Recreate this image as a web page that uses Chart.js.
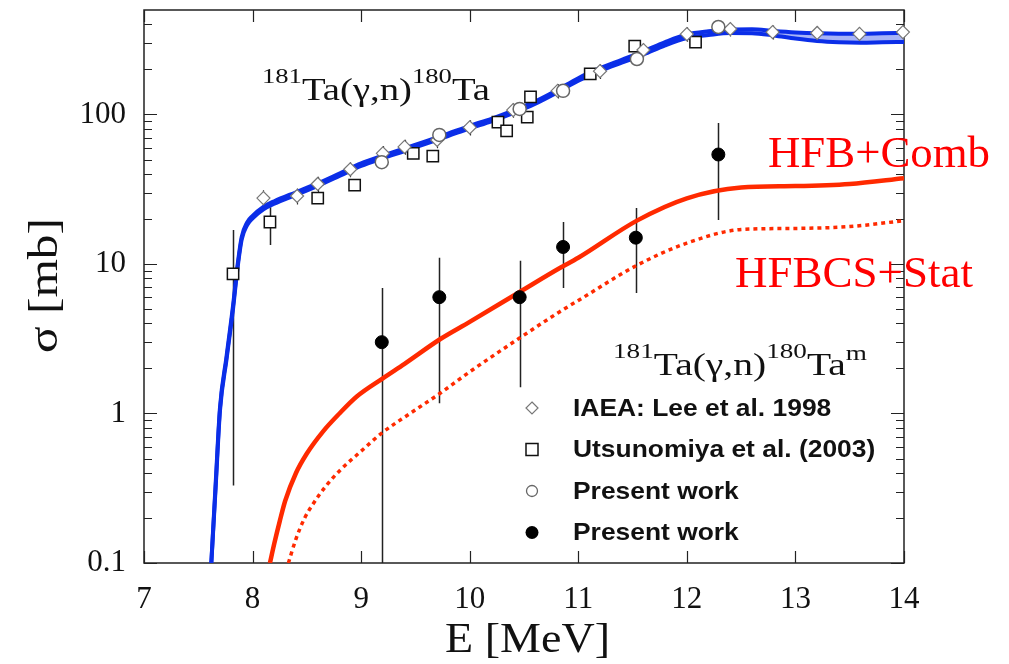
<!DOCTYPE html>
<html>
<head>
<meta charset="utf-8">
<script src="https://cdn.jsdelivr.net/npm/chart.js@4.4.1/dist/chart.umd.min.js"></script>
<style>
  html, body { margin: 0; padding: 0; background: #fff; }
  canvas { display: block; }
</style>
</head>
<body>
<canvas id="myChart" width="1009" height="664"></canvas>
<script>
// --- calculated cross sections (blue band = total, red = isomer) ---
var bandEnergy = [7.62, 7.66, 7.70, 7.76, 7.82, 7.86, 7.90, 7.95, 8.0, 8.1, 8.2, 8.4, 8.6, 8.8, 9.0, 9.2, 9.4, 9.6, 9.8, 10.0,
                  10.2, 10.4, 10.6, 10.8, 11.0, 11.2, 11.4, 11.6, 11.8, 12.0, 12.2, 12.4, 12.6, 12.8, 13.0, 13.2, 13.4, 13.6, 13.8, 14.0];
var bandLow  = [0.1, 0.32, 1.05, 2.3, 5.0, 9.2, 14.6, 18.2, 20.2, 23.2, 25.3, 29, 33.3, 38.8, 45.3, 51, 57, 63.8, 71.7, 80.8,
                90, 102, 117.5, 139.5, 168, 195, 222, 252, 290, 324, 340, 351, 350, 338, 322, 310, 304, 302, 304, 306];
var bandHigh = [0.1, 0.34, 1.1, 2.4, 5.25, 9.6, 15.2, 19, 21, 24.1, 26.3, 30.2, 34.6, 40.3, 47.1, 53, 59.3, 66.3, 74.5, 84,
                93.6, 106, 122, 145, 175, 204, 232, 264, 305, 343, 360, 370, 372, 362, 354, 349, 347, 347, 349, 351];

var combEnergy = [8.16, 8.20, 8.25, 8.30, 8.40, 8.50, 8.65, 8.80, 8.96, 9.2, 9.4, 9.73, 10.0, 10.46, 10.83, 11.0, 11.54, 12.0, 12.5, 13.0, 13.5, 14.0];
var combSigma  = [0.1, 0.135, 0.19, 0.26, 0.40, 0.54, 0.76, 1.0, 1.3, 1.72, 2.15, 3.15, 4.1, 6.5, 9.4, 11, 19.5, 27.5, 32.5, 33.2, 34.3, 37.5];

var statEnergy = [8.33, 8.40, 8.48, 8.56, 8.68, 8.81, 9.0, 9.19, 9.45, 9.73, 10.0, 10.46, 10.83, 11.0, 11.54, 12.0, 12.5, 13.0, 13.5, 14.0];
var statSigma  = [0.1, 0.145, 0.2, 0.25, 0.33, 0.42, 0.56, 0.74, 1.0, 1.37, 1.9, 3.2, 4.8, 5.7, 9.8, 13.8, 17, 17.3, 17.8, 19.5];

// --- measured points ---
var leeEnergy = [8.10, 8.41, 8.60, 8.90, 9.20, 9.40, 9.70, 10.00, 10.40, 10.81, 11.20, 11.60, 12.00, 12.40, 12.79, 13.20, 13.59, 13.99];
var leeSigma  = [27.6, 28.5, 34.3, 43, 55, 60.7, 67.5, 82, 107, 144, 195, 270, 345, 373, 356, 351, 346, 356];
var leeError  = [3.5, 3.5, 4, 5, 6.5, 7, 8, 9.5, 12, 16, 22, 30, 38, 40, 38, 38, 38, 38];

var utsEnergy = [7.82, 8.16, 8.60, 8.94, 9.48, 9.66, 10.26, 10.34, 10.53, 10.56, 11.11, 11.52, 12.08];
var utsSigma  = [8.6, 19.1, 27.6, 33.7, 55, 52.7, 89, 77.6, 96, 131, 187, 287, 305];
var utsLow    = [0.33, 13.4, null, null, null, null, null, null, null, null, null, null, null];
var utsHigh   = [16.9, 24, null, null, null, null, null, null, null, null, null, null, null];

var totEnergy = [9.19, 9.72, 10.46, 10.86, 11.54, 12.29];
var totSigma  = [48, 73, 109, 144, 235, 385];

var isoEnergy = [9.19, 9.72, 10.46, 10.86, 11.53, 12.29];
var isoSigma  = [3, 6, 6, 13, 15, 54];
var isoLow    = [0.05, 1.17, 1.5, 6.9, 6.4, 19.7];
var isoHigh   = [6.9, 11, 10.5, 19.1, 23.7, 87.7];

var xTicks = [7, 8, 9, 10, 11, 12, 13, 14];
var yTicks = [0.1, 1, 10, 100];
var yMinorTicks = [];
yTicks.forEach(function(d) {
    for (var k = 2; k <= 9; k++) {
        if (d * k < 500) yMinorTicks.push(d * k);
    }
});

var legendItems = [
    { style: 'diamond', text: 'IAEA: Lee et al. 1998' },
    { style: 'square', text: 'Utsunomiya et al. (2003)' },
    { style: 'circle', text: 'Present work' },
    { style: 'dot', text: 'Present work' }
];

function pts(xs, ys) {
    return xs.map(function(x, i) { return { x: x, y: ys[i] }; });
}

var SERIF = '"Liberation Serif", "Times New Roman", serif';
var SANS = '"Liberation Sans", Arial, sans-serif';
var BLUE = '#0b2ee8';
var RED = '#ff2a00';

// text made of runs with superscripts, squeezed/stretched to a given width
function drawRuns(ctx, runs, x, y, width) {
    var natural = 0;
    runs.forEach(function(r) {
        ctx.font = r[1] + 'px ' + SERIF;
        natural += ctx.measureText(r[0]).width;
    });
    ctx.save();
    ctx.translate(x, y);
    ctx.scale(width / natural, 1);
    var cx = 0;
    runs.forEach(function(r) {
        ctx.font = r[1] + 'px ' + SERIF;
        ctx.fillText(r[0], cx, -r[2]);
        cx += ctx.measureText(r[0]).width;
    });
    ctx.restore();
}

function marker(ctx, style, x, y) {
    ctx.beginPath();
    if (style === 'diamond') {
        ctx.moveTo(x, y - 6); ctx.lineTo(x + 6, y); ctx.lineTo(x, y + 6); ctx.lineTo(x - 6, y); ctx.closePath();
        ctx.fillStyle = '#fff'; ctx.fill();
        ctx.strokeStyle = '#777'; ctx.lineWidth = 1.2; ctx.stroke();
    } else if (style === 'square') {
        ctx.rect(x - 6, y - 6, 12, 12);
        ctx.fillStyle = '#fff'; ctx.fill();
        ctx.strokeStyle = '#111'; ctx.lineWidth = 1.5; ctx.stroke();
    } else if (style === 'circle') {
        ctx.arc(x, y, 5.5, 0, Math.PI * 2);
        ctx.fillStyle = '#fff'; ctx.fill();
        ctx.strokeStyle = '#666'; ctx.lineWidth = 1.3; ctx.stroke();
    } else {
        ctx.arc(x, y, 6.5, 0, Math.PI * 2);
        ctx.fillStyle = '#000'; ctx.fill();
    }
}

var decorations = {
    id: 'decorations',
    beforeDatasetsDraw: function(chart) {
        var ctx = chart.ctx, a = chart.chartArea;
        var xs = chart.scales.x, ys = chart.scales.y;
        ctx.save();
        // frame
        ctx.strokeStyle = '#222';
        ctx.lineWidth = 1.5;
        ctx.strokeRect(a.left, a.top, a.right - a.left, a.bottom - a.top);
        // inward ticks on all four sides
        ctx.beginPath();
        xTicks.forEach(function(v) {
            var px = Math.round(xs.getPixelForValue(v)) + 0.5;
            ctx.moveTo(px, a.bottom); ctx.lineTo(px, a.bottom - 12);
            ctx.moveTo(px, a.top); ctx.lineTo(px, a.top + 12);
        });
        yTicks.forEach(function(v) {
            var py = Math.round(ys.getPixelForValue(v)) + 0.5;
            ctx.moveTo(a.left, py); ctx.lineTo(a.left + 13, py);
            ctx.moveTo(a.right, py); ctx.lineTo(a.right - 13, py);
        });
        yMinorTicks.forEach(function(v) {
            var py = Math.round(ys.getPixelForValue(v)) + 0.5;
            ctx.moveTo(a.left, py); ctx.lineTo(a.left + 8, py);
            ctx.moveTo(a.right, py); ctx.lineTo(a.right - 8, py);
        });
        ctx.lineWidth = 1.2;
        ctx.stroke();

        // error bars, under the markers
        ctx.beginPath();
        ctx.rect(a.left, a.top, a.right - a.left, a.bottom - a.top);
        ctx.clip();
        function bars(xv, lo, hi, color, width) {
            ctx.beginPath();
            xv.forEach(function(x, i) {
                if (lo[i] == null) return;
                var px = Math.round(xs.getPixelForValue(x)) + 0.5;
                var y1 = ys.getPixelForValue(Math.max(lo[i], 0.05));
                var y2 = ys.getPixelForValue(hi[i]);
                ctx.moveTo(px, y1); ctx.lineTo(px, y2);
            });
            ctx.strokeStyle = color;
            ctx.lineWidth = width;
            ctx.stroke();
        }
        bars(leeEnergy,
             leeSigma.map(function(v, i) { return v - leeError[i]; }),
             leeSigma.map(function(v, i) { return v + leeError[i]; }), '#333', 1.2);
        bars(utsEnergy, utsLow, utsHigh, '#222', 1.5);
        bars(isoEnergy, isoLow, isoHigh, '#222', 1.5);
        ctx.restore();
    },
    afterDraw: function(chart) {
        var ctx = chart.ctx;
        ctx.save();
        ctx.fillStyle = '#111';
        ctx.textBaseline = 'alphabetic';
        drawRuns(ctx, [['181', 22, 17], ['Ta(\u03b3,n)', 32, 0], ['180', 22, 17], ['Ta', 32, 0]], 262, 100, 228);
        drawRuns(ctx, [['181', 22, 17], ['Ta(\u03b3,n)', 32, 0], ['180', 22, 17], ['Ta', 32, 0], ['m', 22, 15]], 613, 375, 254);

        ctx.fillStyle = '#ff0000';
        drawRuns(ctx, [['HFB+Comb', 44, 0]], 768, 167, 222);
        drawRuns(ctx, [['HFBCS+Stat', 44, 0]], 735, 287, 238);

        // axis titles
        ctx.fillStyle = '#111';
        drawRuns(ctx, [['E [MeV]', 42, 0]], 445, 652, 165);
        ctx.save();
        ctx.translate(57, 353);
        ctx.rotate(-Math.PI / 2);
        drawRuns(ctx, [['\u03c3 [mb]', 42, 0]], 0, 0, 135);
        ctx.restore();

        // legend
        legendItems.forEach(function(item, i) {
            var y = 408 + i * 41.5;
            marker(ctx, item.style, 532, y);
            ctx.fillStyle = '#111';
            ctx.font = 'bold 24px ' + SANS;
            ctx.textBaseline = 'middle';
            ctx.save();
            ctx.translate(573, y + 1);
            ctx.scale(1.1, 1);
            ctx.fillText(item.text, 0, 0);
            ctx.restore();
        });
        ctx.restore();
    }
};

var ctx = document.getElementById('myChart').getContext('2d');
var myChart = new Chart(ctx, {
    type: 'line',
    data: {
        datasets: [
            { label: 'HFB+Comb low', data: pts(bandEnergy, bandLow), borderColor: BLUE, borderWidth: 4,
              pointRadius: 0, fill: false, cubicInterpolationMode: 'monotone', order: 3 },
            { label: 'HFB+Comb high', data: pts(bandEnergy, bandHigh), borderColor: BLUE, borderWidth: 4,
              backgroundColor: 'rgba(110,130,240,0.6)', pointRadius: 0, fill: '-1', cubicInterpolationMode: 'monotone', order: 3 },
            { label: 'HFB+Comb', data: pts(combEnergy, combSigma), borderColor: RED, borderWidth: 4.5,
              pointRadius: 0, fill: false, cubicInterpolationMode: 'monotone', order: 3 },
            { label: 'HFBCS+Stat', data: pts(statEnergy, statSigma), borderColor: RED, borderWidth: 3.5, borderDash: [4, 4],
              pointRadius: 0, fill: false, cubicInterpolationMode: 'monotone', order: 3 },
            { label: 'IAEA: Lee et al. 1998', data: pts(leeEnergy, leeSigma), showLine: false, pointStyle: 'rectRot',
              pointRadius: 6.5, borderColor: '#777', borderWidth: 1.2, backgroundColor: '#fff', clip: false, order: 1 },
            { label: 'Utsunomiya et al. (2003)', data: pts(utsEnergy, utsSigma), showLine: false, pointStyle: 'rect',
              pointRadius: 8, borderColor: '#111', borderWidth: 1.5, backgroundColor: '#fff', clip: false, order: 1 },
            { label: 'Present work', data: pts(totEnergy, totSigma), showLine: false, pointStyle: 'circle',
              pointRadius: 6.5, borderColor: '#666', borderWidth: 1.5, backgroundColor: '#fff', clip: false, order: 0 },
            { label: 'Present work (m)', data: pts(isoEnergy, isoSigma), showLine: false, pointStyle: 'circle',
              pointRadius: 6.5, borderColor: '#000', borderWidth: 1, backgroundColor: '#000', clip: false, order: 0 }
        ]
    },
    options: {
        responsive: false,
        animation: false,
        devicePixelRatio: 1,
        layout: { padding: { top: 10, right: 105, left: 0, bottom: 0 } },
        plugins: {
            legend: { display: false },
            tooltip: { enabled: false }
        },
        scales: {
            x: {
                type: 'linear', min: 7, max: 14,
                grid: { display: false, drawTicks: false },
                border: { display: false },
                afterBuildTicks: function(scale) {
                    scale.ticks = xTicks.map(function(v) { return { value: v }; });
                },
                ticks: { color: '#111', padding: 18, font: { family: SERIF, size: 31 } },
                afterFit: function(scale) {
                    scale.height = 101;
                    scale.paddingLeft = 0;
                    scale.paddingRight = 0;
                }
            },
            y: {
                type: 'logarithmic', min: 0.1, max: 500,
                grid: { display: false, drawTicks: false },
                border: { display: false },
                afterBuildTicks: function(scale) {
                    scale.ticks = yTicks.map(function(v) { return { value: v }; });
                },
                ticks: {
                    color: '#111', padding: 18, font: { family: SERIF, size: 31 },
                    callback: function(v) { return String(v); }
                },
                afterFit: function(scale) {
                    scale.width = 144;
                    // labels stay inside; no extra room above the plot
                    scale.paddingTop = 0;
                    scale.paddingBottom = 0;
                }
            }
        }
    },
    plugins: [decorations]
});
</script>
</body>
</html>
